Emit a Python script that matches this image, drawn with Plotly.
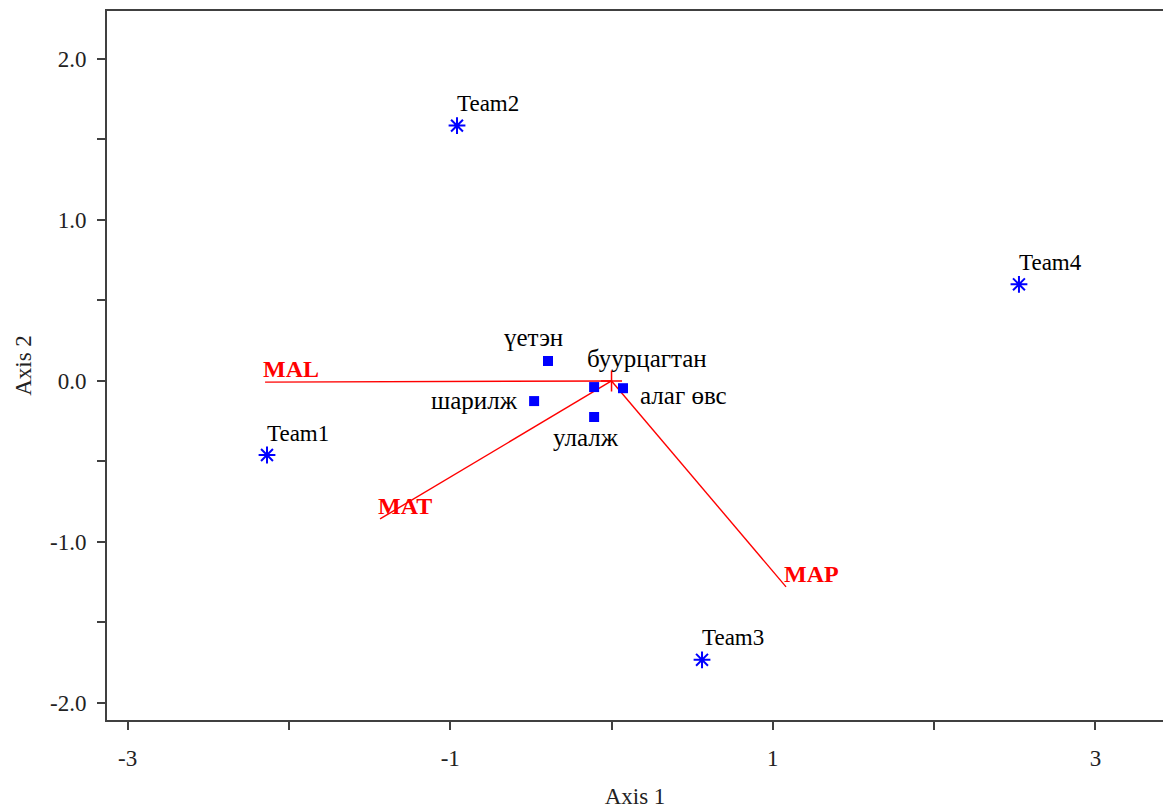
import plotly.graph_objects as go

# Team (row) points
team_names = ["Team1", "Team2", "Team3", "Team4"]
team_x = [-2.136, -0.958, 0.561, 2.526]
team_y = [-0.460, 1.586, -1.732, 0.600]

# Category (column) points
cat_names = ["үетэн", "шарилж", "улалж", "буурцагтан", "алаг өвс"]
cat_x = [-0.394, -0.480, -0.108, -0.108, 0.071]
cat_y = [0.124, -0.125, -0.224, -0.038, -0.045]

# Variable vectors (from origin)
vec_names = ["MAL", "MAT", "MAP"]
vec_x = [-2.148, -1.435, 1.082]
vec_y = [-0.007, -0.857, -1.279]

# Axis ticks
x_tickvals = [-3, -2, -1, 0, 1, 2, 3]
x_ticktext = ["-3", "", "-1", "", "1", "", "3"]
y_tickvals = [-2.0, -1.5, -1.0, -0.5, 0.0, 0.5, 1.0, 1.5, 2.0]
y_ticktext = ["-2.0", "", "-1.0", "", "0.0", "", "1.0", "", "2.0"]

FONT = "Liberation Serif, Times New Roman, serif"
BLUE = "#0000ff"
RED = "#ff0000"

fig = go.Figure()

# vectors
for nx, ny in zip(vec_x, vec_y):
    fig.add_trace(go.Scatter(x=[0, nx], y=[0, ny], mode="lines",
                             line=dict(color=RED, width=1.4),
                             hoverinfo="skip", showlegend=False))

# origin cross
fig.add_trace(go.Scatter(x=[0], y=[0], mode="markers",
                         marker=dict(symbol="cross-thin-open", size=15, color=RED,
                                     line=dict(color=RED, width=1.5)),
                         showlegend=False))

# team points
fig.add_trace(go.Scatter(x=team_x, y=team_y, mode="markers",
                         marker=dict(symbol="asterisk-open", size=14, color=BLUE,
                                     line=dict(color=BLUE, width=2)),
                         showlegend=False))

# category points
fig.add_trace(go.Scatter(x=cat_x, y=cat_y, mode="markers",
                         marker=dict(symbol="square", size=10, color=BLUE),
                         showlegend=False))

annotations = []
for n, x, y in zip(team_names, team_x, team_y):
    annotations.append(dict(x=x, y=y, text=n, showarrow=False,
                            xanchor="left", yanchor="middle",
                            xshift=-2, yshift=22,
                            font=dict(family=FONT, size=23, color="#000")))

cat_offsets = {
    "үетэн": ("center", -14, 23),
    "шарилж": ("right", -14, 1),
    "улалж": ("center", -8, -20),
    "буурцагтан": ("center", 53, 29),
    "алаг өвс": ("left", 15, -7),
}
for n, x, y in zip(cat_names, cat_x, cat_y):
    anc, dx, dy = cat_offsets[n]
    annotations.append(dict(x=x, y=y, text=n, showarrow=False,
                            xanchor=anc, yanchor="middle",
                            xshift=dx, yshift=dy,
                            font=dict(family=FONT, size=25, color="#000")))

for n, x, y in zip(vec_names, vec_x, vec_y):
    annotations.append(dict(x=x, y=y, text="<b>" + n + "</b>", showarrow=False,
                            xanchor="left", yanchor="middle",
                            xshift=-4, yshift=13,
                            font=dict(family=FONT, size=24, color=RED)))

fig.update_layout(
    width=1163, height=809,
    margin=dict(l=107, r=0, t=11, b=89),
    paper_bgcolor="white", plot_bgcolor="white",
    annotations=annotations,
    font=dict(family=FONT, size=23, color="#222"),
    xaxis=dict(range=[-3.128, 3.419], tickvals=x_tickvals, ticktext=x_ticktext,
               showgrid=False, zeroline=False, showline=True, mirror=True,
               linecolor="#404040", linewidth=2, ticks="outside", ticklen=8,
               tickwidth=2, tickcolor="#404040", ticklabelstandoff=8,
               tickfont=dict(family=FONT, size=23, color="#222"),
               title=dict(text="Axis 1", standoff=21,
                          font=dict(family=FONT, size=23, color="#222"))),
    yaxis=dict(range=[-2.106, 2.298], tickvals=y_tickvals, ticktext=y_ticktext,
               showgrid=False, zeroline=False, showline=True, mirror=False,
               linecolor="#404040", linewidth=2, ticks="outside", ticklen=8,
               tickwidth=2, tickcolor="#404040", ticklabelstandoff=6,
               tickfont=dict(family=FONT, size=23, color="#222"),
               title=dict(text="Axis 2", standoff=12,
                          font=dict(family=FONT, size=23, color="#222"))),
)

fig.write_html("out.html",
               config={"displayModeBar": False},
               post_script="document.body.style.margin='0';"
                           "document.body.style.overflow='hidden';")
